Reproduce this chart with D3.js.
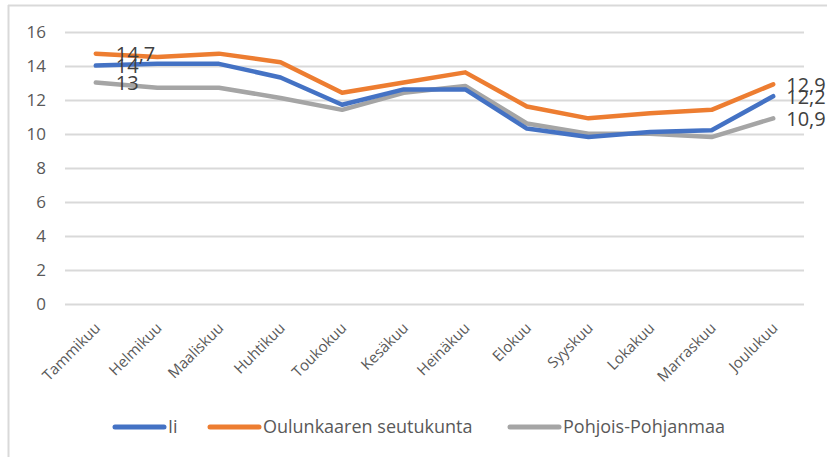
<!DOCTYPE html>
<html>
<head>
<meta charset="utf-8">
<script src="https://cdn.jsdelivr.net/npm/d3@7"></script>
<style>
  body { margin: 0; background: #fff; }
  text { font-family: "Open Sans", sans-serif; }
</style>
</head>
<body>
<svg width="827" height="457"></svg>
<script>
  const months = ['Tammikuu', 'Helmikuu', 'Maaliskuu', 'Huhtikuu', 'Toukokuu', 'Kesäkuu',
    'Heinäkuu', 'Elokuu', 'Syyskuu', 'Lokakuu', 'Marraskuu', 'Joulukuu'];
  const ii = [14, 14.1, 14.1, 13.3, 11.7, 12.6, 12.6, 10.3, 9.8, 10.1, 10.2, 12.2];
  const oulunkaari = [14.7, 14.5, 14.7, 14.2, 12.4, 13.0, 13.6, 11.6, 10.9, 11.2, 11.4, 12.9];
  const pohjois = [13, 12.7, 12.7, 12.1, 11.4, 12.4, 12.8, 10.6, 10.0, 10.0, 9.8, 10.9];
  const yTicks = [0, 2, 4, 6, 8, 10, 12, 14, 16];

  const series = [
    { name: 'Ii', values: ii, color: '#4472C4' },
    { name: 'Oulunkaaren seutukunta', values: oulunkaari, color: '#ED7D31' },
    { name: 'Pohjois-Pohjanmaa', values: pohjois, color: '#A5A5A5' }
  ];

  const svg = d3.select('svg');

  // chart frame (only top and left edges show in the picture)
  svg.append('line').attr('x1', 8).attr('x2', 827).attr('y1', 5.5).attr('y2', 5.5)
    .attr('stroke', '#d9d9d9').attr('stroke-width', 2);
  svg.append('line').attr('x1', 8.5).attr('x2', 8.5).attr('y1', 5).attr('y2', 457)
    .attr('stroke', '#d9d9d9').attr('stroke-width', 2);

  const x = d3.scalePoint()
    .domain(months)
    .range([65, 804])
    .padding(0.5);

  const y = d3.scaleLinear()
    .domain([0, 16])
    .range([304, 31.5]);

  // gridlines
  svg.append('g')
    .selectAll('line')
    .data(yTicks)
    .join('line')
      .attr('x1', 65)
      .attr('x2', 804)
      .attr('y1', d => Math.round(y(d)) + 0.5)
      .attr('y2', d => Math.round(y(d)) + 0.5)
      .attr('stroke', '#d9d9d9')
      .attr('stroke-width', 2);

  const yAxis = svg.append('g')
    .attr('transform', 'translate(46,0)')
    .call(d3.axisLeft(y).tickValues(yTicks).tickSize(0).tickPadding(0));
  yAxis.select('.domain').remove();
  yAxis.selectAll('text')
    .attr('fill', '#595959')
    .style('font-size', '17px')
    .attr('dy', '0.35em');

  const xAxis = svg.append('g')
    .attr('transform', 'translate(0,304)')
    .call(d3.axisBottom(x).tickSize(0).tickPadding(0));
  xAxis.select('.domain').remove();
  xAxis.selectAll('text')
    .attr('fill', '#595959')
    .style('font-size', '15px')
    .attr('text-anchor', 'end')
    .attr('dy', 0)
    .attr('transform', 'translate(5,25) rotate(-45)');

  const line = d3.line()
    .x((d, i) => x(months[i]))
    .y(d => y(d));

  svg.append('g')
    .selectAll('path')
    .data(series.slice().reverse())
    .join('path')
      .attr('d', d => line(d.values))
      .attr('fill', 'none')
      .attr('stroke', d => d.color)
      .attr('stroke-width', 4.5)
      .attr('stroke-linejoin', 'round')
      .attr('stroke-linecap', 'round');

  // data labels on first and last points
  const labels = [];
  series.forEach(s => {
    [0, months.length - 1].forEach(i => labels.push({ i, v: s.values[i] }));
  });
  svg.append('g')
    .selectAll('text')
    .data(labels)
    .join('text')
      .attr('x', d => x(months[d.i]) + (d.i === 0 ? 20 : 13))
      .attr('y', d => y(d.v))
      .attr('dy', '0.38em')
      .attr('fill', '#404040')
      .style('font-size', '20px')
      .text(d => String(d.v).replace('.', ','));

  // legend
  const legendX = [115, 210, 510];
  const legend = svg.append('g')
    .selectAll('g')
    .data(series)
    .join('g')
      .attr('transform', (d, i) => `translate(${legendX[i]},427)`);
  legend.append('line')
    .attr('x1', 0).attr('x2', 49)
    .attr('stroke', d => d.color)
    .attr('stroke-width', 5)
    .attr('stroke-linecap', 'round');
  legend.append('text')
    .attr('x', 53)
    .attr('dy', '0.35em')
    .attr('fill', '#595959')
    .style('font-size', '18px')
    .text(d => d.name);
</script>
</body>
</html>
